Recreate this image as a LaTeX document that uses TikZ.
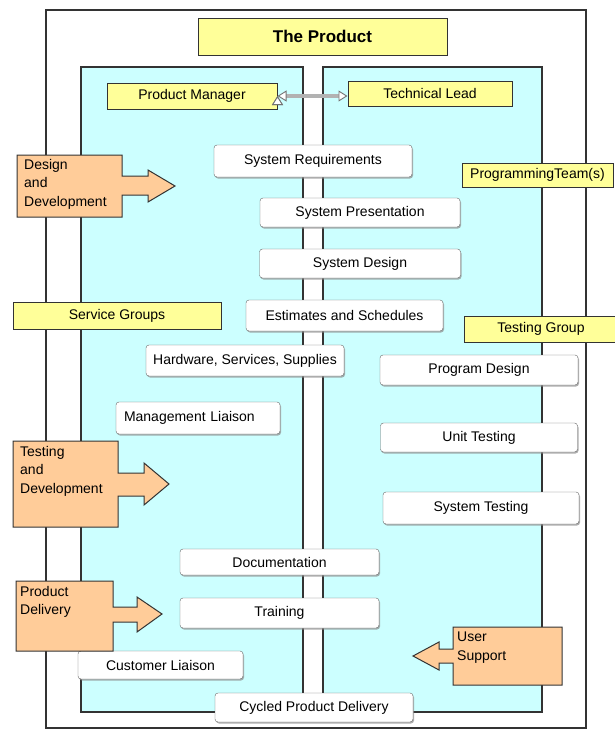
\documentclass[tikz,border=0pt]{standalone}
\usepackage{fontspec}
\setmainfont{Liberation Sans}
\usepackage{tikz}
\usetikzlibrary{arrows.meta, positioning, shadows}
\usepackage{xcolor}
\definecolor{panecyan}{HTML}{CCFFFF}
\definecolor{tagyellow}{HTML}{FFFF99}
\definecolor{calloutorange}{HTML}{FFCC99}
\definecolor{edgegray}{HTML}{333333}

\begin{document}
\begin{tikzpicture}[x=1pt,y=-1pt,on grid,font=\fontsize{14}{17}\selectfont]
    \tikzstyle{stepbox}=[shape=rectangle,draw=gray!80!black,fill=white,rounded corners=3pt,inner sep=0pt,minimum height=30pt,drop shadow={shadow xshift=1pt,shadow yshift=-1.5pt,fill=black!45,opacity=.7}]
    \tikzstyle{tagbox}=[shape=rectangle,draw=edgegray,fill=tagyellow,line width=1pt,inner sep=0pt,minimum height=26pt]
    \tikzstyle{pane}=[draw=edgegray,fill=panecyan,line width=2pt]
    \tikzstyle{bannerarrow}=[draw=edgegray,fill=calloutorange,line width=1pt,line join=miter]
    \tikzstyle{calltext}=[anchor=north west,inner sep=0pt,align=left,font=\fontsize{14}{18.5}\selectfont]
    \tikzstyle{linkarrow}=[draw=gray!60,line width=3.5pt,{Triangle[open,fill=white,color=gray!90!black,length=9pt,width=11pt,line width=0.9pt]}-{Triangle[open,fill=white,color=gray!90!black,length=9pt,width=11pt,line width=0.9pt]}]

    \useasboundingbox (0,0) rectangle (615,731);
    \draw[draw=edgegray,line width=2pt] (46,10) rectangle (586,728);
    \draw[pane] (81,67) rectangle (303,712);
    \draw[pane] (323,67) rectangle (542,712);

    \node[tagbox,minimum width=249pt,minimum height=37pt,font=\bfseries\fontsize{17}{20}\selectfont] (prod) at (322.5,36.5) {The Product};
    \node[tagbox,minimum width=170pt] (pm) at (192,96) {Product Manager};
    \node[tagbox,minimum width=164pt,minimum height=25pt] (tl) at (430,93.5) {Technical Lead};

    \node[stepbox,minimum width=198pt,minimum height=32pt] (sreq) at (313,161) {System Requirements};
    \node[tagbox,minimum width=151pt,minimum height=24pt] (pteam) at (537.5,175) {ProgrammingTeam(s)};
    \node[stepbox,minimum width=200pt,minimum height=29pt] (spres) at (360,212.5) {System Presentation};
    \node[stepbox,minimum width=201pt,minimum height=29pt,below=51pt of spres] (sdes) {System Design};
    \node[tagbox,minimum width=208pt,minimum height=27pt] (sgrp) at (117,315.5) {Service Groups};
    \node[stepbox,minimum width=197pt,minimum height=31pt] (est) at (344.5,315.5) {Estimates and Schedules};
    \node[tagbox,minimum width=154pt] (tgrp) at (541,329) {Testing Group};
    \node[stepbox,minimum width=198pt,minimum height=31pt] (hw) at (245,360.5) {Hardware, Services, Supplies};
    \node[stepbox,minimum width=198pt] (pdes) at (479,370) {Program Design};
    \node[stepbox,text width=148pt,inner xsep=8pt,align=left,minimum height=32pt] (ml) at (198,418) {Management Liaison};
    \node[stepbox,minimum width=197pt,minimum height=29pt,below=67.5pt of pdes] (ut) {Unit Testing};
    \node[stepbox,minimum width=196pt,minimum height=32pt] (st) at (481,508) {System Testing};
    \node[stepbox,minimum width=199pt,minimum height=26pt] (doc) at (279.5,562) {Documentation};
    \node[stepbox,minimum width=199pt,below=51pt of doc] (trn) {Training};
    \node[stepbox,minimum width=165pt,minimum height=28pt] (cl) at (160.5,665) {Customer Liaison};
    \node[stepbox,minimum width=198pt,minimum height=29pt] (cpd) at (314,707.5) {Cycled Product Delivery};

    % orange callouts
    \path[bannerarrow] (17,155) -- (122,155) -- (122,176) -- (148,176) -- (148,170) -- (175,186) -- (148,202) -- (148,195) -- (122,195) -- (122,217) -- (17,217) -- cycle;
    \node[calltext] (design) at (24,159) {Design\\and\\Development};
    \path[bannerarrow] (13,441) -- (118,441) -- (118,473) -- (144,473) -- (144,463) -- (169,484) -- (144,505) -- (144,496) -- (118,496) -- (118,527) -- (13,527) -- cycle;
    \node[calltext] (testdev) at (20,446) {Testing\\and\\Development};
    \path[bannerarrow] (16,581) -- (113,581) -- (113,607) -- (137,607) -- (137,597) -- (162,614) -- (137,632) -- (137,622) -- (113,622) -- (113,651) -- (16,651) -- cycle;
    \node[calltext] (delivery) at (20,586) {Product\\Delivery};
    \path[bannerarrow] (453,627) -- (562,627) -- (562,685) -- (453,685) -- (453,663) -- (439,663) -- (439,670) -- (413,656) -- (439,642) -- (439,649) -- (453,649) -- cycle;
    \node[calltext] (support) at (457,632) {User\\Support};

    \path[linkarrow]
    (pm.east) edge (pm.east -| tl.west)
   ;

\end{tikzpicture}
\end{document}
